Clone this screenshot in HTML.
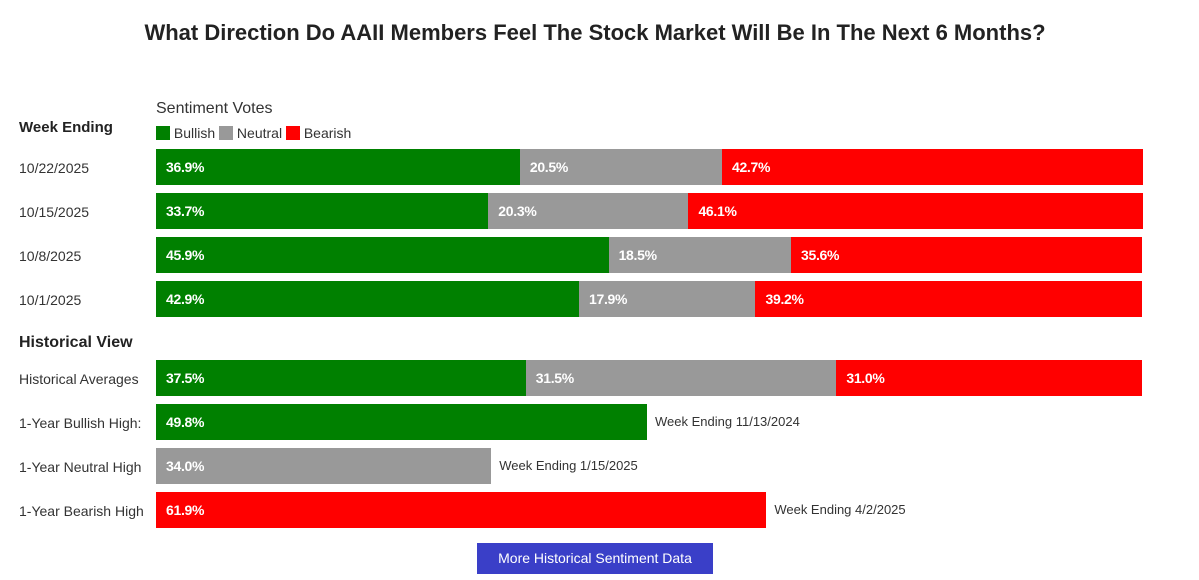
<!DOCTYPE html>
<html><head><meta charset="utf-8"><style>
body{margin:0;width:1199px;height:580px;background:#fff;font-family:"Liberation Sans",sans-serif;position:relative;overflow:hidden;color:#222}
.a{position:absolute;white-space:nowrap}
.bar{position:absolute;height:36px}
.v{position:absolute;color:#fff;font-weight:bold;font-size:14px;line-height:36px;padding-left:10px;letter-spacing:-0.3px}
.lbl{font-size:14px;color:#333}
</style></head><body>
<div class="a" style="left:0;width:1190px;text-align:center;top:20px;font-size:22px;font-weight:bold;color:#222">What Direction Do AAII Members Feel The Stock Market Will Be In The Next 6 Months?</div>
<div class="a" style="left:156px;top:100px;font-size:16px;color:#333">Sentiment Votes</div>
<div class="a" style="left:156px;top:125px;font-size:14px;color:#333">
<span><span style="display:inline-block;width:14px;height:14px;background:#008000;vertical-align:-2px"></span> Bullish</span>
<span><span style="display:inline-block;width:14px;height:14px;background:#999;vertical-align:-2px"></span> Neutral</span>
<span><span style="display:inline-block;width:14px;height:14px;background:#f00;vertical-align:-2px"></span> Bearish</span></div>
<div class="a" style="left:19px;top:119px;font-size:15px;font-weight:bold">Week Ending</div>
<div class="a" style="left:19px;top:334px;font-size:16px;font-weight:bold">Historical View</div>
<div id="chart"></div>
<div class="a" style="left:477px;top:543px;width:236px;height:31px;background:#3a3fc8;color:#fff;font-size:14px;line-height:31px;text-align:center">More Historical Sentiment Data</div>
<script>
const weeks=["10/22/2025","10/15/2025","10/8/2025","10/1/2025"];
const bullish=[36.9,33.7,45.9,42.9];
const neutral=[20.5,20.3,18.5,17.9];
const bearish=[42.7,46.1,35.6,39.2];
const histLabel="Historical Averages";
const histVals=[37.5,31.5,31.0];
const highLabels=["1-Year Bullish High:","1-Year Neutral High","1-Year Bearish High"];
const highVals=[49.8,34.0,61.9];
const highNotes=["Week Ending 11/13/2024","Week Ending 1/15/2025","Week Ending 4/2/2025"];
const colors=["#008000","#999999","#ff0000"];
const X0=156,W=986;
const x=v=>v/100*W;
const c=document.getElementById('chart');
function label(t,y){const d=document.createElement('div');d.className='a lbl';d.style.left='19px';d.style.top=(y+11)+'px';d.textContent=t;


c.appendChild(d);}
function seg(v,left,y,col){const b=document.createElement('div');b.className='bar';b.style.left=(X0+left)+'px';b.style.top=y+'px';b.style.width=x(v)+'px';b.style.background=col;


const t=document.createElement('div');t.className='v';t.textContent=v.toFixed(1)+'%';b.appendChild(t);c.appendChild(b);}
function stacked(vals,y){let acc=0;vals.forEach((v,i)=>{seg(v,x(acc),y,colors[i]);acc+=v;});}
weeks.forEach((w,i)=>{const y=149+i*44;label(w,y);stacked([bullish[i],neutral[i],bearish[i]],y);});
label(histLabel,360);stacked(histVals,360);
highVals.forEach((v,i)=>{const y=404+i*44;label(highLabels[i],y);seg(v,0,y,colors[i]);
const n=document.createElement('div');n.className='a lbl';n.style.left=(X0+x(v)+8)+'px';n.style.top=(y+10)+'px';n.style.fontSize='13px';n.textContent=highNotes[i];


c.appendChild(n);});
</script>
</body></html>
